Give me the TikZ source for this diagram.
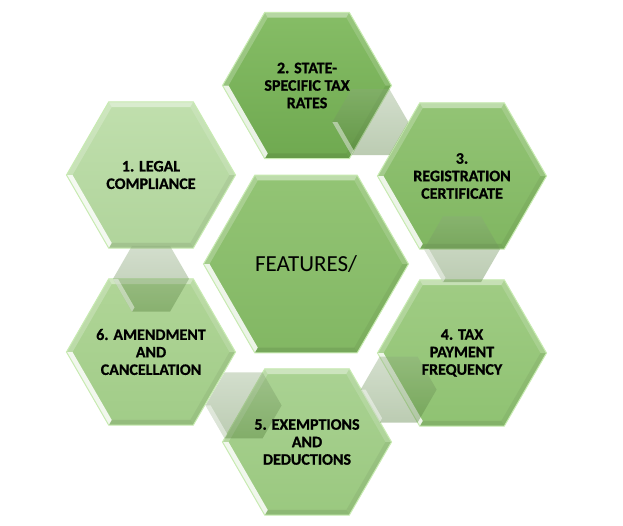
\documentclass[tikz,border=0pt]{standalone}
\usepackage{fontspec}
\setmainfont{Carlito}[BoldFeatures={FakeBold=0.9}]
\usetikzlibrary{calc}

\definecolor{hOneT}{HTML}{C0DFAD}\definecolor{hOneB}{HTML}{B0D49B}
\definecolor{hTwoT}{HTML}{86BD66}\definecolor{hTwoB}{HTML}{6FA950}
\definecolor{hThrT}{HTML}{93C475}\definecolor{hThrB}{HTML}{80B661}
\definecolor{hFouT}{HTML}{A0CC84}\definecolor{hFouB}{HTML}{8FC272}
\definecolor{hFivT}{HTML}{AAD293}\definecolor{hFivB}{HTML}{9AC87F}
\definecolor{hSixT}{HTML}{B0D597}\definecolor{hSixB}{HTML}{A1CC88}
\definecolor{hCenT}{HTML}{93C475}\definecolor{hCenB}{HTML}{82B763}
\definecolor{rim}{HTML}{C8EBB2}
\definecolor{cnA}{HTML}{8CA97C}
\definecolor{cnB}{HTML}{4F7A36}

\tikzset{
  lbl/.style={font=\bfseries\fontsize{16}{17.5}\selectfont, align=center, text=black, inner sep=0pt},
  ctrlbl/.style={font=\fontsize{23}{26}\selectfont, text=black, inner sep=0pt},
}

\newcommand\hexpath[1]{(0:#1) -- (60:#1) -- (120:#1) -- (180:#1) -- (240:#1) -- (300:#1) -- cycle}

\newcommand\hexa[5]{%
\begin{scope}[shift={(#1,#2)}]
  \shade[top color=#4, bottom color=#5] \hexpath{#3};
  \pgfmathsetmacro\ri{#3-6}
  \fill[#4!60!white] (240:#3) -- (300:#3) -- (300:\ri) -- (240:\ri) -- cycle;
  \fill[white, opacity=0.85] (120:#3) -- (180:#3) -- (180:\ri) -- (120:\ri) -- cycle;
  \fill[white, opacity=0.22] (180:#3) -- (240:#3) -- (240:\ri) -- (180:\ri) -- cycle;
  \fill[white, opacity=0.15] (300:#3) -- (0:#3) -- (0:\ri) -- (300:\ri) -- cycle;
  \fill[black, opacity=0.05] (0:#3) -- (60:#3) -- (60:\ri) -- (0:\ri) -- cycle;
  \fill[black, opacity=0.08] (60:#3) -- (120:#3) -- (120:\ri) -- (60:\ri) -- cycle;
  \draw[line width=1pt, rim] \hexpath{#3};
\end{scope}}

\newcommand\conn[2]{%
\begin{scope}[shift={(#1,#2)}]
  \shade[top color=cnA, bottom color=cnB, fill opacity=0.38] \hexpath{38};
  \fill[white, opacity=0.45] (120:38) -- (180:38) -- (180:33) -- (120:33) -- cycle;
\end{scope}}

\begin{document}
\begin{tikzpicture}[x=1pt,y=-1pt]
  \fill[white] (0,0) rectangle (623,525);
  \useasboundingbox (0,0) rectangle (623,525);

  \coordinate (h1) at (151,175);
  \coordinate (h2) at (307,85.5);
  \coordinate (h3) at (462,176);
  \coordinate (h4) at (462,353);
  \coordinate (h5) at (307,442);
  \coordinate (h6) at (151,352);
  \coordinate (hc) at (306,264);

  \hexa{151}{175}{84.5}{hOneT}{hOneB}
  \hexa{307}{85.5}{84.5}{hTwoT}{hTwoB}
  \hexa{462}{176}{84.5}{hThrT}{hThrB}
  \hexa{462}{353}{84.5}{hFouT}{hFouB}
  \hexa{307}{442}{84.5}{hFivT}{hFivB}
  \hexa{151}{352}{84.5}{hSixT}{hSixB}
  \hexa{306}{264}{102.5}{hCenT}{hCenB}

  \conn{370.4}{122.1}
  \conn{462}{249.2}
  \conn{398.6}{389.6}
  \conn{243.6}{405.4}
  \conn{151}{278.8}

  \node[lbl] (t1) at (h1) {1. LEGAL\\COMPLIANCE};
  \node[lbl] (t2) at (h2) {2. STATE-\\SPECIFIC TAX\\RATES};
  \node[lbl] (t3) at (h3) {3.\\REGISTRATION\\CERTIFICATE};
  \node[lbl] (t4) at (h4) {4. TAX\\PAYMENT\\FREQUENCY};
  \node[lbl] (t5) at (h5) {5. EXEMPTIONS\\AND\\DEDUCTIONS};
  \node[lbl] (t6) at (h6) {6. AMENDMENT\\AND\\CANCELLATION};
  \node[ctrlbl] (tc) at (hc) {FEATURES/};
\end{tikzpicture}
\end{document}
